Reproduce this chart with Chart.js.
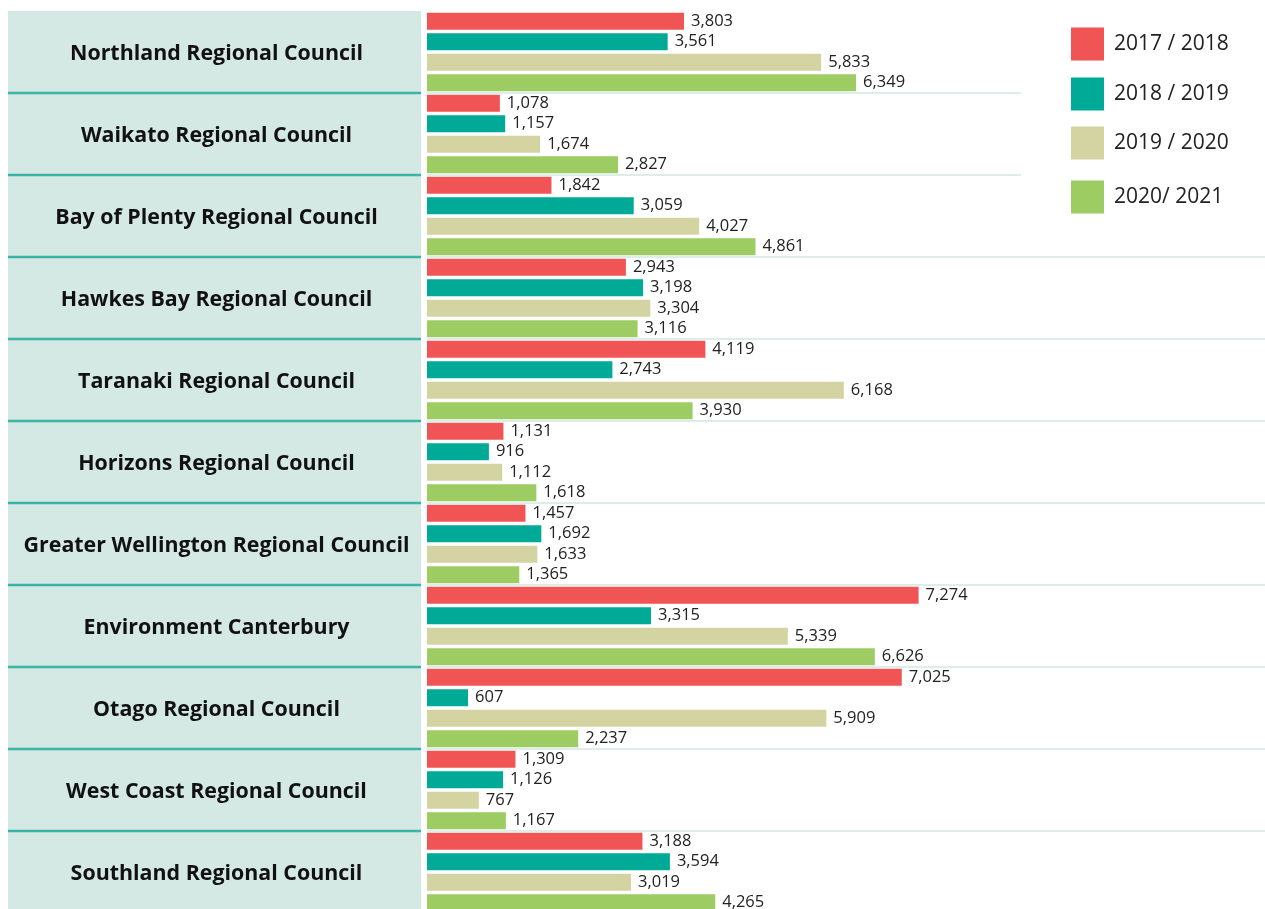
<!DOCTYPE html>
<html>
<head>
<meta charset="utf-8">
<script src="https://cdn.jsdelivr.net/npm/chart.js@4/dist/chart.umd.min.js"></script>
<style>
  html, body { margin: 0; padding: 0; background: #fff; overflow: hidden; }
  #wrap { width: 1265px; height: 925px; }
</style>
</head>
<body>
<div id="wrap"><canvas id="councilChart" width="1265" height="925"></canvas></div>
<script>
const councils = [
    'Northland Regional Council',
    'Waikato Regional Council',
    'Bay of Plenty Regional Council',
    'Hawkes Bay Regional Council',
    'Taranaki Regional Council',
    'Horizons Regional Council',
    'Greater Wellington Regional Council',
    'Environment Canterbury',
    'Otago Regional Council',
    'West Coast Regional Council',
    'Southland Regional Council'
];

const years = ['2017 / 2018', '2018 / 2019', '2019 / 2020', '2020/ 2021'];

const fy2018 = [3803, 1078, 1842, 2943, 4119, 1131, 1457, 7274, 7025, 1309, 3188];
const fy2019 = [3561, 1157, 3059, 3198, 2743, 916, 1692, 3315, 607, 1126, 3594];
const fy2020 = [5833, 1674, 4027, 3304, 6168, 1112, 1633, 5339, 5909, 767, 3019];
const fy2021 = [6349, 2827, 4861, 3116, 3930, 1618, 1365, 6626, 2237, 1167, 4265];

const colors = ['#f05454', '#00aa96', '#d4d3a2', '#9ccc62'];

const PANEL_LEFT = 8;
const PANEL_RIGHT = 421;

// label panel on the left + dividers
const panelPlugin = {
    id: 'panel',
    beforeDraw(chart) {
        const { ctx, chartArea, scales } = chart;
        const y = scales.y;
        ctx.save();
        ctx.fillStyle = '#d5e9e4';
        ctx.fillRect(PANEL_LEFT, chartArea.top, PANEL_RIGHT - PANEL_LEFT, chartArea.bottom - chartArea.top);
        ctx.strokeStyle = '#3ab5a4';
        ctx.lineWidth = 2.5;
        for (let i = 0; i < councils.length - 1; i++) {
            const yy = (y.getPixelForTick(i) + y.getPixelForTick(i + 1)) / 2;
            ctx.beginPath();
            ctx.moveTo(PANEL_LEFT, yy);
            ctx.lineTo(PANEL_RIGHT, yy);
            ctx.stroke();
        }
        ctx.fillStyle = '#111';
        ctx.font = 'bold 21.4px "Open Sans", sans-serif';
        ctx.textAlign = 'center';
        ctx.textBaseline = 'middle';
        councils.forEach((name, i) => {
            ctx.fillText(name, (PANEL_LEFT + PANEL_RIGHT) / 2 + 2, y.getPixelForTick(i) + 2);
        });
        ctx.restore();
    },
    beforeDatasetsDraw(chart) {
        // legend box hides the first grid lines
        const { ctx } = chart;
        ctx.save();
        ctx.fillStyle = '#fff';
        ctx.fillRect(1021, 0, 244, 235);
        ctx.restore();
    }
};

const valueLabels = {
    id: 'valueLabels',
    afterDatasetsDraw(chart) {
        const { ctx } = chart;
        ctx.save();
        ctx.fillStyle = '#222';
        ctx.font = '16.5px "Open Sans", sans-serif';
        ctx.textAlign = 'left';
        ctx.textBaseline = 'middle';
        chart.data.datasets.forEach((ds, di) => {
            chart.getDatasetMeta(di).data.forEach((bar, i) => {
                ctx.fillText(ds.data[i].toLocaleString('en-US'), bar.x + 7, bar.y);
            });
        });
        ctx.restore();
    }
};

const sideLegend = {
    id: 'sideLegend',
    afterDraw(chart) {
        const { ctx } = chart;
        const rows = [44, 94, 143, 197];
        ctx.save();
        ctx.font = '21px "Open Sans", sans-serif';
        ctx.textBaseline = 'middle';
        ctx.textAlign = 'left';
        chart.data.datasets.forEach((ds, i) => {
            ctx.fillStyle = ds.backgroundColor;
            ctx.fillRect(1071, rows[i] - 16.5, 33, 33);
            ctx.fillStyle = '#222';
            ctx.fillText(ds.label, 1114, rows[i]);
        });
        ctx.restore();
    }
};

new Chart(document.getElementById('councilChart'), {
    type: 'bar',
    data: {
        labels: councils,
        datasets: [fy2018, fy2019, fy2020, fy2021].map((vals, i) => ({
            label: years[i],
            data: vals,
            backgroundColor: colors[i],
            barPercentage: 0.83,
            categoryPercentage: 1
        }))
    },
    options: {
        indexAxis: 'y',
        responsive: false,
        animation: false,
        layout: { padding: { top: 11, left: PANEL_LEFT, right: 0, bottom: 12 } },
        plugins: {
            legend: { display: false },
            tooltip: { enabled: false }
        },
        scales: {
            x: { display: false, min: 0, max: 12400 },
            y: {
                offset: true,
                border: { display: false },
                grid: {
                    offset: true,
                    drawTicks: false,
                    lineWidth: 2,
                    color: c => c.index === 0 ? 'rgba(0,0,0,0)' : '#dcedea'
                },
                ticks: { display: false },
                afterFit(scale) { scale.width = 427 - PANEL_LEFT; }
            }
        }
    },
    plugins: [panelPlugin, valueLabels, sideLegend]
});
</script>
</body>
</html>
